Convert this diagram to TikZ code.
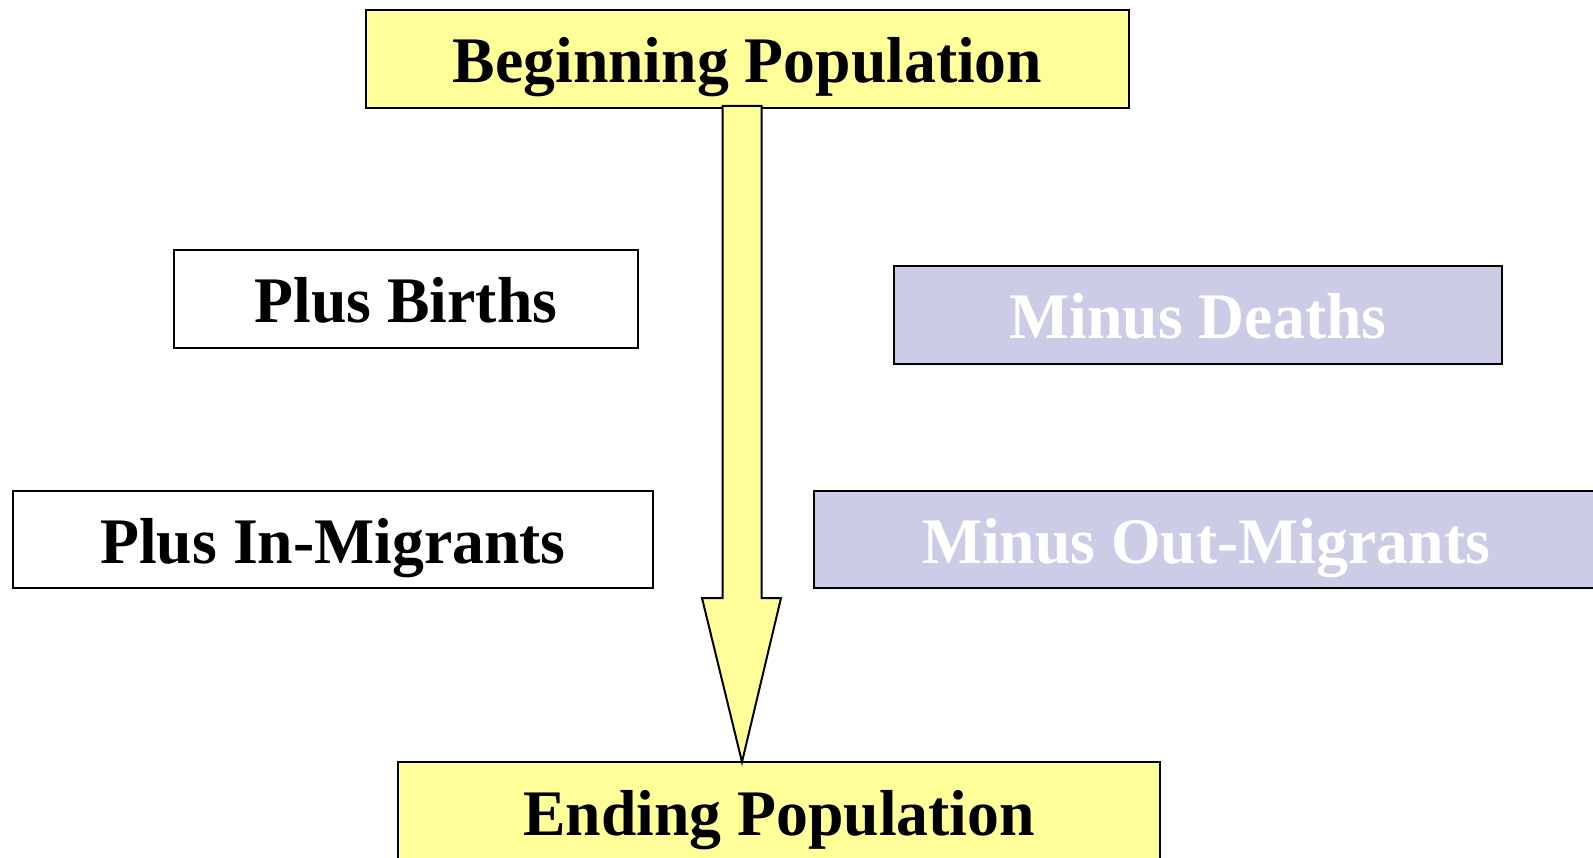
\documentclass[tikz,border=0pt]{standalone}
\usepackage{fontspec}
\usetikzlibrary{calc}
\newfontfamily\boxfont[FakeStretch=0.98]{Liberation Serif}
\definecolor{popyellow}{RGB}{255,255,153}
\definecolor{poplav}{RGB}{204,204,230}
\begin{document}
\begin{tikzpicture}[x=1pt,y=-1pt,
  popbox/.style={draw=black,line width=2pt,rectangle,inner sep=0pt,
    text height=47.4pt,text depth=0pt,
    font=\boxfont\bfseries\fontsize{65}{78}\selectfont},
  yelbox/.style={popbox,fill=popyellow,text=black},
  whitebox/.style={popbox,fill=white,text=black},
  lavbox/.style={popbox,fill=poplav,text=white},
  bigarrow/.style={draw=black,line width=2pt,fill=popyellow,line join=miter}
]
\useasboundingbox (0,0) rectangle (1593,858);
\fill[white] (0,0) rectangle (1593,858);

\node[yelbox,minimum width=763pt,minimum height=98pt] (beg) at (747.5,59) {Beginning Population};
\node[whitebox,minimum width=464pt,minimum height=98pt] (births) at (406,299) {Plus Births};
\node[lavbox,minimum width=608pt,minimum height=98pt] (deaths) at (1198,315) {Minus Deaths};
\node[whitebox,minimum width=640pt,minimum height=97pt] (inmig) at (333,539.5) {Plus In-Migrants};
\node[lavbox,minimum width=784pt,minimum height=97pt] (outmig) at (1206,539.5) {Minus Out-Migrants};
\node[yelbox,minimum width=762pt,minimum height=100pt] (end) at (779,812) {Ending Population};

\coordinate (atop) at (742,106);
\coordinate (atip) at (742,762);
\draw[bigarrow] ($(atop)+(-19.5,0)$) -- ($(atop)+(-19.5,492)$) -- ($(atop)+(-40,492)$)
  -- (atip) -- ($(atop)+(39,492)$) -- ($(atop)+(19.5,492)$) -- ($(atop)+(19.5,0)$) -- cycle;
\end{tikzpicture}
\end{document}
